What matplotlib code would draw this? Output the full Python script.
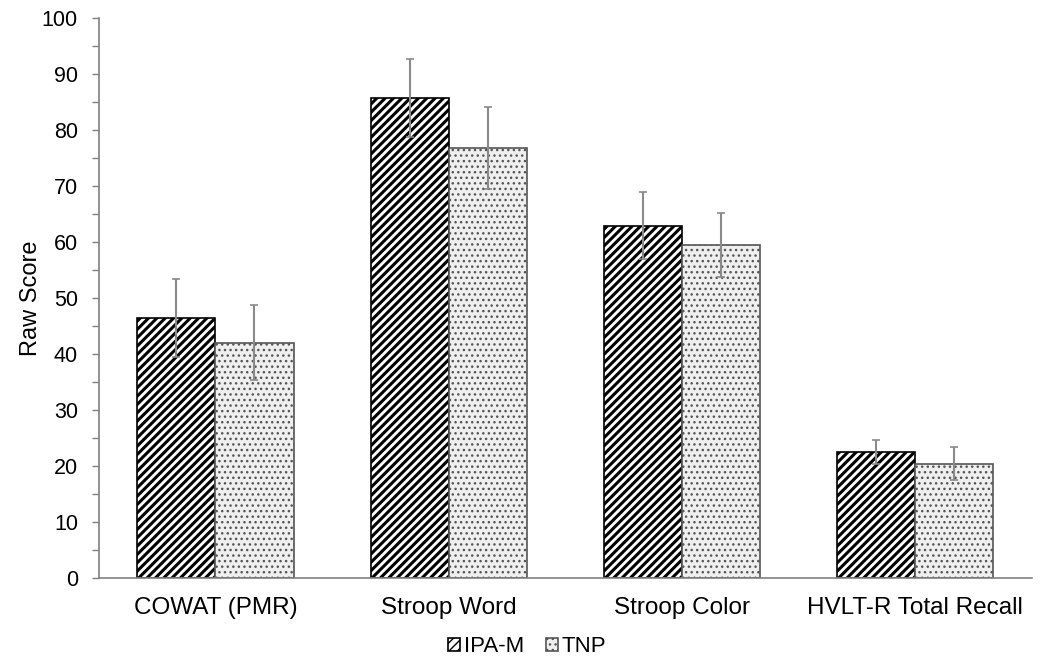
import matplotlib.pyplot as plt
import numpy as np
from matplotlib.ticker import MultipleLocator

plt.rcParams['font.family'] = ['Liberation Sans', 'DejaVu Sans']

categories = ['COWAT (PMR)', 'Stroop Word', 'Stroop Color', 'HVLT-R Total Recall']
groups = ['IPA-M', 'TNP']
ipa_m = [46.4, 85.7, 62.9, 22.5]
ipa_m_err = [7.0, 7.0, 6.0, 2.1]
tnp = [42.0, 76.8, 59.5, 20.4]
tnp_err = [6.7, 7.3, 5.7, 3.0]

fig = plt.figure(figsize=(10.4, 6.59), dpi=100)
ax = fig.add_axes([0.095, 0.123, 0.897, 0.85])

x = np.arange(len(categories))
w = 0.335

# thick stripes for IPA-M, thin dots for TNP
plt.rcParams['hatch.linewidth'] = 2.2
b1 = ax.bar(x - w / 2, ipa_m, w, color='white', edgecolor='black', hatch='////',
            linewidth=1.2, label=groups[0], zorder=2)
plt.rcParams['hatch.linewidth'] = 1.0
b2 = ax.bar(x + w / 2, tnp, w, color='#efefef', edgecolor='#555555', hatch='...',
            linewidth=1.2, label=groups[1], zorder=2)

ax.errorbar(x - w / 2, ipa_m, yerr=ipa_m_err, fmt='none', ecolor='#8a8a8a',
            elinewidth=1.5, capsize=3, capthick=1.2, zorder=3)
ax.errorbar(x + w / 2, tnp, yerr=tnp_err, fmt='none', ecolor='#8a8a8a',
            elinewidth=1.5, capsize=3, capthick=1.2, zorder=3)

ax.set_xlim(-0.5, 3.5)
ax.set_ylim(0, 100)
ax.yaxis.set_major_locator(MultipleLocator(10))
ax.yaxis.set_minor_locator(MultipleLocator(5))
ax.tick_params(axis='y', which='both', direction='out', length=5, color='#808080',
               labelsize=15.5, width=1, pad=10)
ax.tick_params(axis='x', length=0, labelsize=17.5, pad=14)
ax.set_xticks(x)
ax.set_xticklabels(categories)
ax.set_ylabel('Raw Score', fontsize=17, labelpad=0)

for s in ['top', 'right']:
    ax.spines[s].set_visible(False)
ax.spines['left'].set_color('#808080')
ax.spines['bottom'].set_color('#808080')
ax.spines['left'].set_linewidth(1.2)
ax.spines['bottom'].set_linewidth(1.2)

fig.legend(handles=[b1, b2], labels=groups, loc='lower center', ncol=2,
           bbox_to_anchor=(0.507, -0.028), frameon=False, fontsize=16,
           handlelength=0.55, handleheight=0.55, handletextpad=0.15, columnspacing=1.0)

fig.savefig('out.png', dpi=100)
